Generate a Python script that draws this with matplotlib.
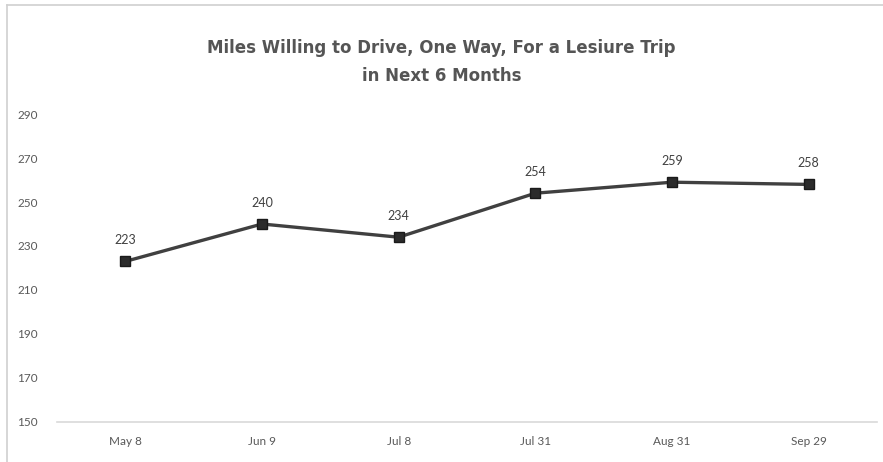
import matplotlib
matplotlib.use("Agg")
import matplotlib.pyplot as plt
from matplotlib.lines import Line2D

# survey waves and average one-way miles
dates = ["May 8", "Jun 9", "Jul 8", "Jul 31", "Aug 31", "Sep 29"]
miles = [223, 240, 234, 254, 259, 258]
y_ticks = [150, 170, 190, 210, 230, 250, 270, 290]

title = "Miles Willing to Drive, One Way, For a Lesiure Trip\nin Next 6 Months"

plt.rcParams['font.family'] = ['Lato', 'DejaVu Sans']

fig = plt.figure(figsize=(8.83, 4.62), dpi=100)
ax = fig.add_axes([57 / 883, 1 - 422 / 462, 820 / 883, (422 - 114) / 462])

x = list(range(len(dates)))
ax.plot(x, miles, color="#404040", lw=2.4, marker="s", markersize=7,
        markerfacecolor="#2b2b2b", markeredgecolor="#1a1a1a", markeredgewidth=1.0,
        solid_joinstyle="round", zorder=3)

for xi, v in zip(x, miles):
    ax.annotate(str(v), (xi, v), xytext=(0, 11), textcoords="offset points",
                ha="center", va="bottom", fontsize=9, color="#404040")

ax.set_xlim(-0.5, len(dates) - 0.5)
ax.set_ylim(150, 290)
ax.set_xticks(x)
ax.set_xticklabels(dates)
ax.set_yticks(y_ticks)

for side in ["top", "right", "left"]:
    ax.spines[side].set_visible(False)
ax.spines["bottom"].set_color("#d9d9d9")
ax.spines["bottom"].set_linewidth(1.2)
ax.tick_params(axis="both", length=0, labelsize=8.5, colors="#595959")
ax.tick_params(axis="x", pad=10)
ax.tick_params(axis="y", pad=14)

fig.text(0.5, 1 - 62 / 462, title, ha="center", va="center", fontsize=12,
         fontweight="bold", family=["DejaVu Sans"], color="#555555",
         linespacing=1.65)

# light frame around the chart area
fig.add_artist(Line2D([7 / 883, 7 / 883], [0, 1 - 5 / 462], transform=fig.transFigure,
                      color="#d0d0d0", lw=1.2))
fig.add_artist(Line2D([7 / 883, 1], [1 - 5 / 462, 1 - 5 / 462], transform=fig.transFigure,
                      color="#d0d0d0", lw=1.2))

fig.savefig("out.png", dpi=100)
